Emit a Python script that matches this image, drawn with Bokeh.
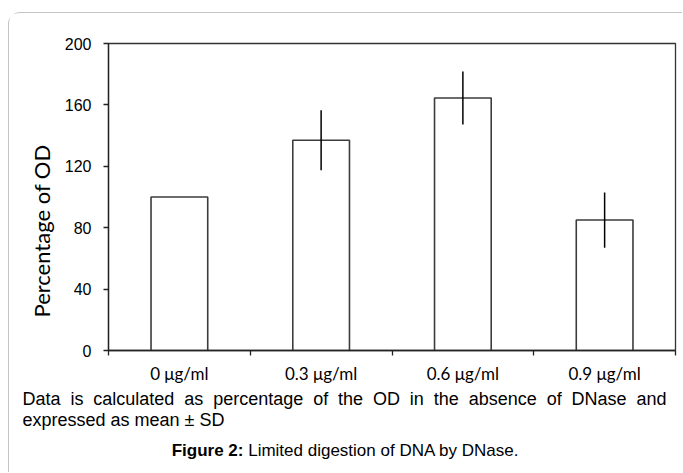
from bokeh.plotting import figure
from bokeh.layouts import column
from bokeh.models import (FactorRange, Range1d, LinearAxis, FixedTicker, Title, ColumnDataSource)
from bokeh.embed import file_html
from bokeh.resources import INLINE
from bokeh.core.properties import value

categories = ["0 μg/ml", "0.3 μg/ml", "0.6 μg/ml", "0.9 μg/ml"]
means = [100, 137, 164.5, 85]
sds = [0, 19.5, 17.2, 18.0]
y_ticks = [0, 40, 80, 120, 160, 200]

y_label = "Percentage of OD"
note_line1 = "Data is calculated as percentage of the OD in the absence of DNase and"
note_line2 = "expressed as mean ± SD"
fig_bold = "Figure 2:"
fig_rest = "Limited digestion of DNA by DNase."

W = 673
H1 = 375
H2 = 84

p = figure(x_range=FactorRange(*categories, range_padding=0), y_range=Range1d(0, 200),
           width=W, height=H1, output_backend="svg", toolbar_location=None,
           x_axis_type=None, y_axis_type=None,
           min_border_left=99, min_border_right=7, min_border_top=30, min_border_bottom=38)
p.frame_align = False
p.outline_line_color = "#333333"
p.outline_line_width = 1.3
p.background_fill_color = "white"
p.border_fill_color = "white"

src = ColumnDataSource(dict(cat=categories, mean=means))
p.vbar(x="cat", top="mean", width=0.4, source=src, fill_color="white",
       line_color="#3c3c3c", line_width=1.6)

err_cats = [c for c, s in zip(categories, sds) if s > 0]
err_lo = [m - s for m, s in zip(means, sds) if s > 0]
err_hi = [m + s for m, s in zip(means, sds) if s > 0]
p.segment(x0=err_cats, y0=err_lo, x1=err_cats, y1=err_hi, line_color="black", line_width=1.5)

yaxis = LinearAxis(ticker=FixedTicker(ticks=y_ticks))
yaxis.major_tick_in = 0
yaxis.major_tick_out = 5
yaxis.minor_tick_line_color = None
yaxis.axis_line_color = "#222222"
yaxis.axis_line_width = 1.3
yaxis.major_tick_line_color = "#222222"
yaxis.major_tick_line_width = 1.3
yaxis.major_label_text_font = "Liberation Sans"
yaxis.major_label_text_font_size = "16px"
yaxis.major_label_text_color = "black"
yaxis.major_label_standoff = 12
p.add_layout(yaxis, "left")

# category labels at bar centres, tick marks at category boundaries
centres = [i + 0.5 for i in range(len(categories))]
edges = [float(i) for i in range(len(categories) + 1)]
xaxis = LinearAxis(ticker=FixedTicker(ticks=centres, minor_ticks=edges))
xaxis.major_label_overrides = {c: name for c, name in zip(centres, categories)}
xaxis.major_tick_line_color = None
xaxis.minor_tick_in = 0
xaxis.minor_tick_out = 5
xaxis.minor_tick_line_color = "#222222"
xaxis.minor_tick_line_width = 1.3
xaxis.axis_line_color = "#222222"
xaxis.axis_line_width = 1.3
xaxis.major_label_text_font = "Lato"
xaxis.major_label_text_font_size = "17px"
xaxis.major_label_text_color = "black"
xaxis.major_label_standoff = 6
p.add_layout(xaxis, "below")

ytitle = Title(text=y_label, align="left", offset=33, standoff=14,
               text_font="Lato", text_font_size="22px", text_font_style="normal",
               text_color="black")
p.add_layout(ytitle, "left")

# caption panel (coordinates in canvas pixels, y downwards)
cap = figure(width=W, height=H2, output_backend="svg", toolbar_location=None,
             x_range=Range1d(0, W), y_range=Range1d(H2, 0),
             x_axis_type=None, y_axis_type=None,
             min_border_left=0, min_border_right=0, min_border_top=0, min_border_bottom=0)
cap.frame_align = False
cap.outline_line_color = None
cap.background_fill_color = "white"
cap.border_fill_color = "white"

ARIAL = {"a": 556, "b": 556, "c": 500, "d": 556, "e": 556, "f": 278, "g": 556, "h": 556,
         "i": 222, "l": 222, "m": 833, "n": 556, "o": 556, "p": 556, "r": 333, "s": 500,
         "t": 278, "u": 556, "y": 500, "D": 722, "N": 722, "O": 778, "A": 667, "L": 556,
         ".": 278, " ": 278}
ARIAL_BOLD = {"F": 611, "i": 278, "g": 611, "u": 611, "r": 389, "e": 556, " ": 278,
              "2": 556, ":": 333}

def text_width(w, fs, table):
    return sum(table.get(ch, 556) for ch in w) / 1000.0 * fs

FS_NOTE = 18
FS_FIG = 17

words = note_line1.split(" ")
left, right = 13.0, 657.0
widths = [text_width(w, FS_NOTE, ARIAL) for w in words]
gap = (right - left - sum(widths)) / (len(words) - 1)
xs = []
cur = left
for w in widths:
    xs.append(cur)
    cur += w + gap

cap_font = value("Liberation Sans")
cap.text(x=xs, y=[10] * len(words), text=words, text_align="left", text_baseline="middle",
         text_font=cap_font, text_font_size=f"{FS_NOTE}px", text_color="black")
cap.text(x=[13], y=[31], text=[note_line2], text_align="left", text_baseline="middle",
         text_font=cap_font, text_font_size=f"{FS_NOTE}px", text_color="black")

bold_w = text_width(fig_bold, FS_FIG, ARIAL_BOLD)
space_w = 0.278 * FS_FIG
rest_w = text_width(fig_rest, FS_FIG, ARIAL)
fig_left = 336 - (bold_w + space_w + rest_w) / 2
cap.text(x=[fig_left], y=[62], text=[fig_bold], text_align="left", text_baseline="middle",
         text_font=cap_font, text_font_size=f"{FS_FIG}px", text_font_style="bold",
         text_color="black")
cap.text(x=[fig_left + bold_w + space_w], y=[62], text=[fig_rest], text_align="left",
         text_baseline="middle", text_font=cap_font, text_font_size=f"{FS_FIG}px",
         text_color="black")

layout = column(p, cap, spacing=0)
layout.margin = (12, 0, 0, 8)
layout.styles = {"border-top": "1px solid #c4c4c4", "border-left": "1px solid #c4c4c4",
                 "border-top-left-radius": "12px", "background": "white"}

open("out.html", "w").write(file_html(layout, INLINE))
